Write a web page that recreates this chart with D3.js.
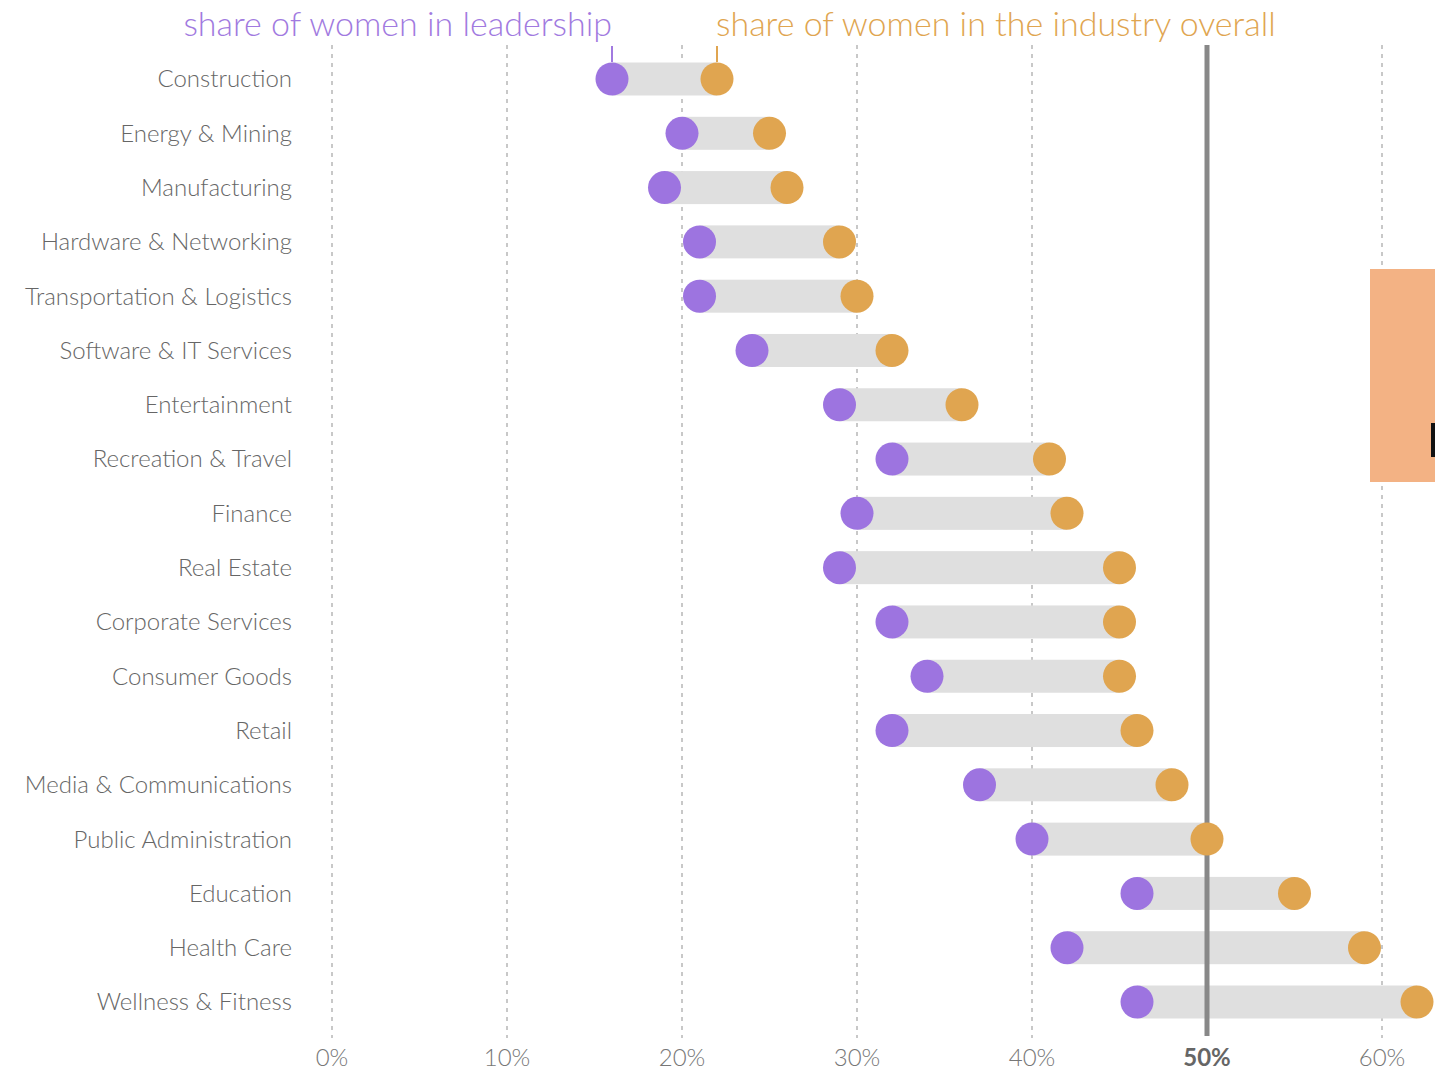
<!DOCTYPE html>
<html><head><meta charset="utf-8">
<script src="https://cdn.jsdelivr.net/npm/d3@7/dist/d3.min.js"></script>
<style>
html,body{margin:0;padding:0;background:#fff;}
svg{display:block;font-family:Lato,"Open Sans",sans-serif;}
</style></head>
<body>
<svg id="chart" width="1435" height="1071"></svg>
<script>
const categories = ["Construction","Energy & Mining","Manufacturing","Hardware & Networking","Transportation & Logistics","Software & IT Services","Entertainment","Recreation & Travel","Finance","Real Estate","Corporate Services","Consumer Goods","Retail","Media & Communications","Public Administration","Education","Health Care","Wellness & Fitness"];
const leadership = [16,20,19,21,21,24,29,32,30,29,32,34,32,37,40,46,42,46];
const overall =    [22,25,26,29,30,32,36,41,42,45,45,45,46,48,50,55,59,62];
const tickValues = [0,10,20,30,40,50,60];

const svg = d3.select("#chart");
const x = d3.scaleLinear().domain([0,60]).range([332,1382]);
const y = d3.scalePoint().domain(categories).range([79,1002]);

// grid lines
svg.append("g").selectAll("line").data(tickValues.filter(d=>d!==50)).join("line")
  .attr("x1",d=>x(d)).attr("x2",d=>x(d)).attr("y1",45).attr("y2",1038)
  .attr("stroke","#c8c8c8").attr("stroke-width",2).attr("stroke-dasharray","4,5");

// bars
svg.append("g").selectAll("rect").data(categories).join("rect")
  .attr("x",(d,i)=>x(leadership[i])).attr("width",(d,i)=>x(overall[i])-x(leadership[i]))
  .attr("y",d=>y(d)-16.5).attr("height",33).attr("fill","#dfdfdf");

// 50% line
svg.append("line").attr("x1",x(50)).attr("x2",x(50)).attr("y1",45).attr("y2",1036)
  .attr("stroke","#888").attr("stroke-width",5);

// leader lines
svg.append("line").attr("x1",x(leadership[0])).attr("x2",x(leadership[0])).attr("y1",46).attr("y2",62)
  .attr("stroke","#a17ae0").attr("stroke-width",2);
svg.append("line").attr("x1",x(overall[0])).attr("x2",x(overall[0])).attr("y1",46).attr("y2",62)
  .attr("stroke","#e0a550").attr("stroke-width",2);

// circles
svg.append("g").selectAll("circle").data(categories).join("circle")
  .attr("cx",(d,i)=>x(leadership[i])).attr("cy",d=>y(d)).attr("r",16.5).attr("fill","#9d74e0");
svg.append("g").selectAll("circle").data(categories).join("circle")
  .attr("cx",(d,i)=>x(overall[i])).attr("cy",d=>y(d)).attr("r",16.5).attr("fill","#e0a550");

// category labels
svg.append("g").selectAll("text").data(categories).join("text")
  .attr("x",292).attr("y",d=>y(d)).attr("dy","0.35em").attr("text-anchor","end")
  .attr("font-size",24).attr("font-weight",300).attr("fill","#666").text(d=>d);

// x axis labels
svg.append("g").selectAll("text").data(tickValues).join("text")
  .attr("x",d=>x(d)).attr("y",1058).attr("dy","0.35em").attr("text-anchor","middle")
  .attr("font-size",24).attr("font-weight",d=>d===50?700:300)
  .attr("fill",d=>d===50?"#666":"#777").text(d=>d+"%");

// legend titles
svg.append("text").attr("x",612).attr("y",24).attr("dy","0.35em").attr("text-anchor","end")
  .attr("font-size",34).attr("font-weight",300).attr("fill","#a17ae0").text("share of women in leadership");
svg.append("text").attr("x",716).attr("y",24).attr("dy","0.35em").attr("text-anchor","start")
  .attr("font-size",34).attr("font-weight",300).attr("fill","#e0a550").text("share of women in the industry overall");

// overlay artifact at right edge
svg.append("rect").attr("x",1370).attr("y",269).attr("width",65).attr("height",213).attr("fill","#f3b284");
svg.append("rect").attr("x",1431).attr("y",423).attr("width",4).attr("height",34).attr("fill","#111");
</script>
</body></html>
